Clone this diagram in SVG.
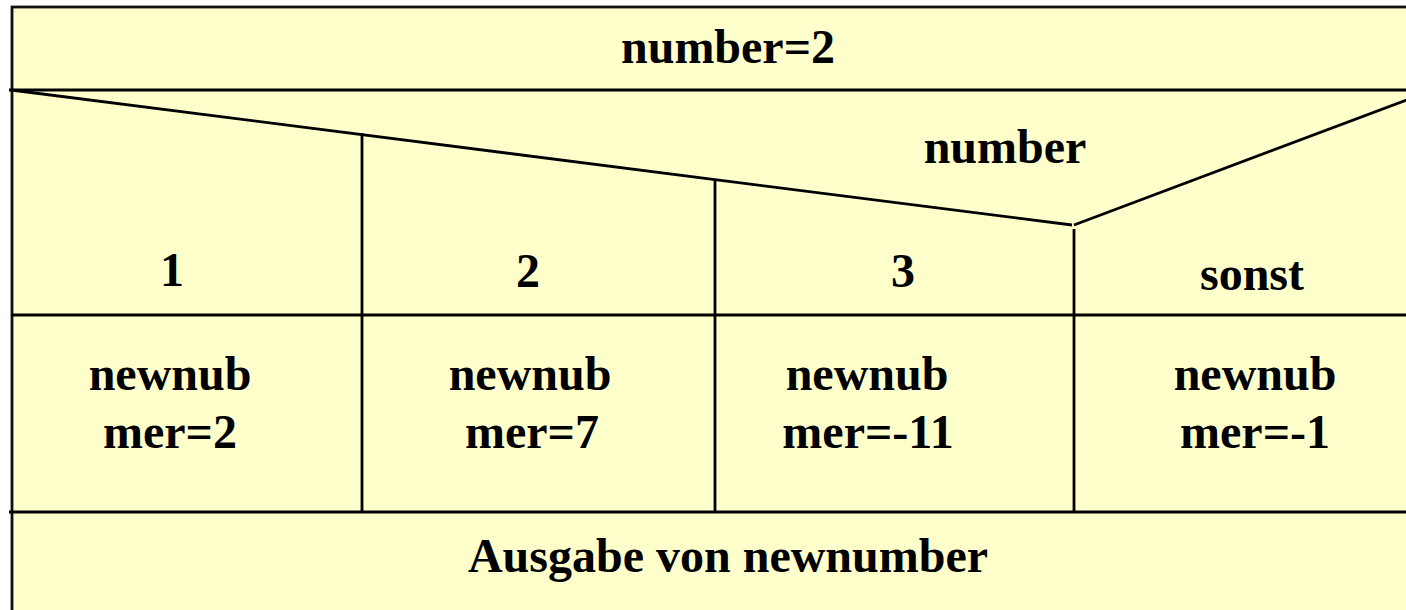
<svg xmlns="http://www.w3.org/2000/svg" width="1406" height="610" viewBox="0 0 1406 610">
<style>
.t{font-family:"Liberation Serif","Times New Roman",serif;font-weight:bold;font-size:48px;fill:#000;text-anchor:middle}
.h{stroke:#000;stroke-width:3.2;fill:none}
.l{stroke:#000;stroke-width:2.8;fill:none}
</style>
<rect x="0" y="0" width="1406" height="610" fill="#ffffff"/>
<g id="frame">
<rect x="12" y="7" width="1440" height="620" fill="#ffffcc" stroke="#111" stroke-width="2.8"/>
</g>
<g id="connectors">
<line class="h" x1="9" y1="90" x2="1406" y2="90"/>
<line class="h" x1="11" y1="315" x2="1406" y2="315"/>
<line class="h" x1="9" y1="512" x2="1406" y2="512"/>
<line class="l" x1="11" y1="90" x2="1072" y2="225"/>
<line class="l" x1="1074" y1="225" x2="1420" y2="95"/>
<line class="l" x1="362" y1="133" x2="362" y2="512"/>
<line class="l" x1="715" y1="180" x2="715" y2="512"/>
<line class="l" x1="1074" y1="229" x2="1074" y2="512"/>
</g>
<g id="node-header"><text class="t" x="728" y="63">number=2</text></g>
<g id="node-selector"><text class="t" x="1005" y="163">number</text></g>
<g id="node-case1"><text class="t" x="172" y="286">1</text></g>
<g id="node-case2"><text class="t" x="528" y="287">2</text></g>
<g id="node-case3"><text class="t" x="903" y="287">3</text></g>
<g id="node-case-else"><text class="t" x="1252" y="290">sonst</text></g>
<g id="node-action1"><text class="t" x="170" y="390">newnub</text><text class="t" x="170" y="448">mer=2</text></g>
<g id="node-action2"><text class="t" x="530" y="390">newnub</text><text class="t" x="532" y="448">mer=7</text></g>
<g id="node-action3"><text class="t" x="867" y="390">newnub</text><text class="t" x="868" y="448">mer=-11</text></g>
<g id="node-action-else"><text class="t" x="1255" y="390">newnub</text><text class="t" x="1255" y="448">mer=-1</text></g>
<g id="node-output"><text class="t" x="728" y="572">Ausgabe von newnumber</text></g>
</svg>
